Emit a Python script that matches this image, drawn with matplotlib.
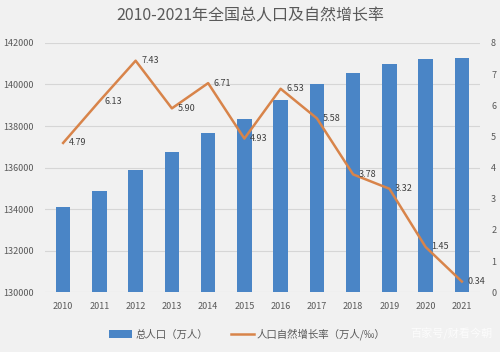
import matplotlib.pyplot as plt
import numpy as np

plt.rcParams['font.family'] = ['Noto Sans CJK SC', 'DejaVu Sans']

years = ['2010', '2011', '2012', '2013', '2014', '2015',
         '2016', '2017', '2018', '2019', '2020', '2021']
population = [134091, 134850, 135900, 136726, 137646, 138326,
              139232, 140011, 140541, 141008, 141212, 141260]
growth = [4.79, 6.13, 7.43, 5.90, 6.71, 4.93,
          6.53, 5.58, 3.78, 3.32, 1.45, 0.34]

bg = '#F1F1F1'
barc = '#4A85C6'
linec = '#D8844A'
txtc = '#595959'

fig = plt.figure(figsize=(5, 3.52), dpi=100, facecolor=bg)
ax = fig.add_axes([0.09, 0.17, 0.87, 0.708], facecolor=bg)
x = np.arange(len(years))

ax.bar(x, population, width=0.4, color=barc, zorder=2, label='总人口（万人）')
ax.set_ylim(130000, 142000)
ax.set_yticks(np.arange(130000, 142001, 2000))
ax.set_xlim(-0.5, 11.5)
ax.set_xticks(x)
ax.set_xticklabels(years)
ax.grid(axis='y', color='#D6D6D6', linewidth=0.8, zorder=0)
for s in ax.spines.values():
    s.set_visible(False)
ax.tick_params(length=0, labelsize=6.5, colors=txtc)
ax.tick_params(axis='x', pad=7)
ax.tick_params(axis='y', pad=8)

ax2 = ax.twinx()
ax2.plot(x, growth, color=linec, linewidth=1.8, zorder=3, label='人口自然增长率（万人/‰）')
ax2.set_ylim(0, 8)
ax2.set_yticks(range(0, 9))
for s in ax2.spines.values():
    s.set_visible(False)
ax2.tick_params(length=0, labelsize=6.5, colors=txtc, pad=8)
for xi, g in zip(x, growth):
    ax2.annotate('%.2f' % g, (xi, g), xytext=(4, 0), textcoords='offset points',
                 ha='left', va='center', fontsize=6.5, color='#404040')

fig.text(0.5, 0.955, '2010-2021年全国总人口及自然增长率', ha='center', va='center',
         fontsize=11.5, color=txtc)

h1, l1 = ax.get_legend_handles_labels()
h2, l2 = ax2.get_legend_handles_labels()
fig.legend(h1 + h2, l1 + l2, loc='center', bbox_to_anchor=(0.495, 0.05), ncol=2,
           frameon=False, fontsize=7.5, labelcolor=txtc, handlelength=2.2,
           handletextpad=0.3, columnspacing=2.2)

fig.text(0.985, 0.05, '百家号/财看今朝', ha='right', va='center', fontsize=8,
         color='white', alpha=0.8)

fig.savefig('out.png', dpi=100, facecolor=bg)
